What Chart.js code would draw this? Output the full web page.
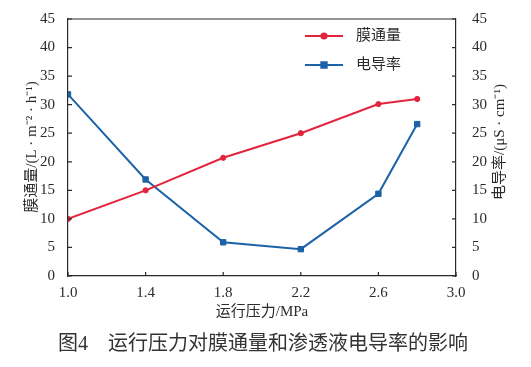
<!DOCTYPE html>
<html>
<head>
<meta charset="utf-8">
<script src="https://cdn.jsdelivr.net/npm/chart.js@4.4.0/dist/chart.umd.min.js"></script>
<style>
    html, body { margin: 0; padding: 0; background: #fff; }
    #chart { display: block; }
</style>
</head>
<body>
<canvas id="chart" width="531" height="367"></canvas>
<script>
// Chart data
const pressure = [1.0, 1.4, 1.8, 2.2, 2.6, 2.8];
const fluxValues = [10.0, 15.0, 20.7, 25.0, 30.1, 31.0];
const conductivityValues = [31.8, 16.9, 5.9, 4.7, 14.4, 26.6];
const xTickValues = [1.0, 1.4, 1.8, 2.2, 2.6, 3.0];
const seriesNames = ['膜通量', '电导率'];
const xTitle = '运行压力/MPa';
const leftTitle = '膜通量/(L · m⁻² · h⁻¹)';
const rightTitle = '电导率/(μS · cm⁻¹)';
const caption = '图4　运行压力对膜通量和渗透液电导率的影响';

const FONT = '"Liberation Serif", "Noto Sans CJK SC", serif';
const INK = '#2b2b2b';
const RED = '#e2253d';
const BLUE = '#1b62a6';

const toPoints = (values) => values.map((v, i) => ({ x: pressure[i], y: v }));

// Frame, inward ticks, titles, legend and caption
const decorPlugin = {
    id: 'decor',
    afterDraw(chart) {
        const { ctx, chartArea: a, scales } = chart;
        ctx.save();
        ctx.strokeStyle = INK;
        ctx.lineWidth = 1.2;

        // top border
        ctx.beginPath();
        ctx.moveTo(a.left, a.top);
        ctx.lineTo(a.right, a.top);
        ctx.stroke();

        // inward ticks
        ctx.beginPath();
        scales.x.ticks.forEach(t => {
            const px = scales.x.getPixelForValue(t.value);
            ctx.moveTo(px, a.bottom);
            ctx.lineTo(px, a.bottom - 4);
        });
        scales.y.ticks.forEach(t => {
            const py = scales.y.getPixelForValue(t.value);
            ctx.moveTo(a.left, py);
            ctx.lineTo(a.left + 4, py);
        });
        scales.y1.ticks.forEach(t => {
            const py = scales.y1.getPixelForValue(t.value);
            ctx.moveTo(a.right, py);
            ctx.lineTo(a.right - 4, py);
        });
        ctx.stroke();

        // axis titles
        ctx.fillStyle = INK;
        ctx.font = '15px ' + FONT;
        ctx.textAlign = 'center';
        ctx.textBaseline = 'middle';
        ctx.fillText(xTitle, (a.left + a.right) / 2 + 0, 312);

        ctx.save();
        ctx.translate(32, 147);
        ctx.rotate(-Math.PI / 2);
        ctx.fillText(leftTitle, 0, 0);
        ctx.restore();

        ctx.save();
        ctx.translate(500, 142);
        ctx.rotate(-Math.PI / 2);
        ctx.fillText(rightTitle, 0, 0);
        ctx.restore();

        // legend
        ctx.textAlign = 'left';
        chart.data.datasets.forEach((ds, i) => {
            const y = 36 + i * 29;
            ctx.strokeStyle = ds.borderColor;
            ctx.lineWidth = 2;
            ctx.beginPath();
            ctx.moveTo(305, y);
            ctx.lineTo(343, y);
            ctx.stroke();
            ctx.fillStyle = ds.borderColor;
            Chart.helpers.drawPoint(ctx, {
                pointStyle: ds.pointStyle,
                radius: ds.pointRadius,
                borderWidth: 1
            }, 324, y);
            ctx.fillStyle = INK;
            ctx.fillText(ds.label, 356, y);
        });

        // caption
        ctx.fillStyle = '#333';
        ctx.font = '20px ' + FONT;
        ctx.textAlign = 'center';
        ctx.fillText(caption, 263, 345);

        ctx.restore();
    }
};

const tickFont = { family: FONT, size: 15 };

new Chart(document.getElementById('chart'), {
    type: 'line',
    data: {
        datasets: [
            {
                label: seriesNames[0],
                data: toPoints(fluxValues),
                yAxisID: 'y',
                borderColor: RED,
                backgroundColor: RED,
                borderWidth: 2,
                pointStyle: 'circle',
                pointRadius: 2.6,
                pointBorderWidth: 1
            },
            {
                label: seriesNames[1],
                data: toPoints(conductivityValues),
                yAxisID: 'y1',
                borderColor: BLUE,
                backgroundColor: BLUE,
                borderWidth: 2,
                pointStyle: 'rect',
                pointRadius: 3.8,
                pointBorderWidth: 1
            }
        ]
    },
    options: {
        responsive: false,
        animation: false,
        layout: { padding: { top: 19, left: 0, right: 0, bottom: 0 } },
        plugins: {
            legend: { display: false },
            tooltip: { enabled: false }
        },
        scales: {
            x: {
                type: 'linear',
                min: 1.0,
                max: 3.0,
                afterBuildTicks: s => { s.ticks = xTickValues.map(v => ({ value: v })); },
                afterFit: s => { s.height = 91; },
                grid: { display: false },
                border: { display: true, color: INK, width: 1.2 },
                ticks: {
                    color: INK,
                    font: tickFont,
                    padding: 0,
                    maxRotation: 0,
                    callback: v => Number(v).toFixed(1)
                }
            },
            y: {
                position: 'left',
                min: 0,
                max: 45,
                afterFit: s => { s.width = 68; },
                grid: { display: false },
                border: { display: true, color: INK, width: 1.2 },
                ticks: { stepSize: 5, color: INK, font: tickFont, padding: 5 }
            },
            y1: {
                position: 'right',
                min: 0,
                max: 45,
                afterFit: s => { s.width = 75; },
                grid: { display: false },
                border: { display: true, color: INK, width: 1.2 },
                ticks: { stepSize: 5, color: INK, font: tickFont, padding: 8 }
            }
        }
    },
    plugins: [decorPlugin]
});
</script>
</body>
</html>
